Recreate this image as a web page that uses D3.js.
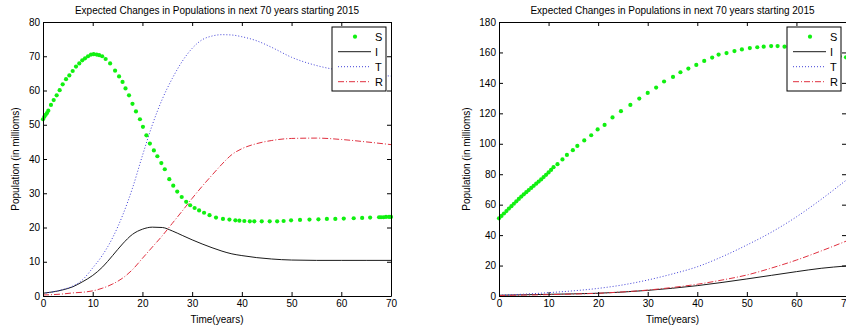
<!DOCTYPE html>
<html>
<head>
<meta charset="utf-8">
<script src="https://cdn.jsdelivr.net/npm/d3@7"></script>
<style>
  html, body { margin: 0; padding: 0; background: #fff; }
  svg { display: block; }
  text { font-family: "Liberation Sans", Arial, Helvetica, sans-serif; fill: #000; }
</style>
</head>
<body>
<svg id="chart" width="846" height="331"></svg>
<script>
(function () {
  var titleText = 'Expected Changes in Populations in next 70 years starting 2015';
  var xLabelText = 'Time(years)';
  var yLabelText = 'Population (in millioms)';
  var legendNames = ['S', 'I', 'T', 'R'];
  var xTicks = [0, 10, 20, 30, 40, 50, 60, 70];
  var yTicksLeft = [0, 10, 20, 30, 40, 50, 60, 70, 80];
  var yTicksRight = [0, 20, 40, 60, 80, 100, 120, 140, 160, 180];

  // left panel: S is plotted with dots at the solver's time steps
  var sTimeLeft = [0, 0.27, 0.54, 0.8, 1.07, 1.6, 2.15, 2.75, 3.35, 3.96, 4.63, 5.3, 5.97, 6.64, 7.3, 7.9,
    8.46, 9.06, 9.66, 10.2, 10.8, 11.3, 11.9, 12.6, 13.5, 14.5, 15.3, 16.0, 16.6, 17.3, 18.0, 18.7,
    19.5, 20.1, 20.8, 21.5, 22.3, 23.0, 23.8, 24.5, 25.4, 26.2, 27.0, 27.9, 28.8, 29.6, 30.5, 31.4,
    32.4, 33.5, 34.8, 36.2, 37.5, 38.7, 39.5, 40.5, 41.6, 42.5, 44.0, 45.6, 47.1, 48.4, 49.9, 51.7,
    53.6, 55.4, 57.1, 58.8, 60.5, 62.5, 64.2, 65.8, 67.6, 68.0, 68.5, 69.0, 69.6, 70];
  var sLeft = [51.6, 52.3, 52.9, 53.4, 54.1, 55.8, 57.2, 58.6, 60.1, 61.8, 63.3, 64.4, 65.7, 67.0, 67.9, 68.8,
    69.4, 70.0, 70.5, 70.6, 70.5, 70.3, 70.0, 69.2, 67.9, 65.8, 64.1, 62.5, 60.6, 58.6, 56.1, 53.9,
    51.6, 49.4, 46.9, 44.5, 42.5, 40.8, 38.8, 37.0, 34.1, 32.2, 30.5, 28.9, 27.5, 26.5, 25.7, 25.0,
    24.3, 23.6, 22.9, 22.5, 22.3, 22.1, 22.0, 21.9, 21.8, 21.8, 21.8, 21.8, 21.8, 21.9, 22.1, 22.2,
    22.3, 22.4, 22.5, 22.5, 22.6, 22.7, 22.8, 22.9, 23.0, 23.0, 23.0, 23.1, 23.1, 23.1];
  var lineTimeLeft = [0, 2, 4, 6, 8, 10, 12, 14, 16, 18, 20, 22, 24, 26, 28, 30, 32, 34, 36, 38, 40, 43, 46, 50, 55, 60, 65, 70];
  var iLeft = [0.8, 1.2, 1.8, 2.7, 4.2, 6.0, 8.5, 11.8, 15.2, 18.0, 19.5, 20.1, 20.0, 19.0, 17.7, 16.4, 15.2, 14.1,
    13.1, 12.3, 11.8, 11.2, 10.8, 10.5, 10.4, 10.4, 10.4, 10.4];
  var tLeft = [0.8, 1.2, 1.9, 2.9, 4.8, 8.2, 12.0, 17.0, 23.5, 31.5, 41.0, 50.0, 57.5, 63.5, 68.5, 72.3, 74.8, 75.9,
    76.3, 76.2, 75.7, 74.5, 72.6, 69.7, 67.3, 65.8, 64.8, 64.2];
  var rLeft = [0.3, 0.4, 0.6, 0.9, 1.1, 1.5, 2.3, 3.5, 5.2, 7.7, 11.0, 14.3, 17.6, 21.2, 24.8, 28.5, 32.0, 35.3,
    38.5, 41.3, 43.0, 44.5, 45.4, 46.0, 46.1, 45.7, 45.0, 44.2];

  // right panel
  var sTimeRight = [0, 0.5, 1, 1.5, 2, 2.5, 3, 3.5, 4, 4.5, 5, 5.5, 6, 6.5, 7, 7.5, 8, 8.5, 9, 9.5, 10, 10.5, 11,
    11.8, 12.8, 13.7, 14.9, 15.8, 17.2, 18.6, 19.9, 21.3, 22.9, 24.6, 26.5, 28.3, 30, 31.7, 33.3, 35.1,
    36.6, 38.2, 39.8, 41.4, 43, 44.3, 45.9, 47.5, 49, 50.6, 52.1, 53.4, 54.9, 56.2, 57.6, 59.2, 60.8,
    62.4, 64, 65.6, 67.2, 68.7, 70];
  var sRight = [51.0, 52.6, 54.2, 55.8, 57.4, 59.0, 60.6, 62.2, 63.8, 65.3, 66.8, 68.2, 69.6, 71.0, 72.4, 73.8,
    75.2, 76.6, 78.1, 79.6, 81.2, 82.8, 84.6, 86.6, 89.7, 92.7, 95.8, 98.6, 102.2, 105.6, 109.4, 112.4,
    117.3, 121.4, 125.5, 129.7, 133.4, 136.9, 140.9, 143.9, 147.0, 149.4, 151.8, 154.4, 156.6, 158.6,
    159.6, 160.9, 162.0, 162.9, 163.4, 163.8, 164.2, 164.2, 163.8, 163.2, 162.4, 161.4, 160.3, 159.2,
    158.2, 157.4, 156.8];
  var lineTimeRight = [0, 5, 10, 15, 20, 25, 30, 35, 40, 45, 50, 55, 60, 65, 70];
  var iRight = [0.5, 0.8, 1.1, 1.4, 1.8, 2.6, 3.7, 5.1, 6.8, 8.9, 11.2, 13.6, 16.0, 18.2, 19.7];
  var tRight = [0.5, 1.2, 2.2, 3.4, 5.0, 7.3, 10.5, 14.5, 19.2, 25.8, 33.5, 42.0, 52.0, 63.5, 76.0];
  var rRight = [0.3, 0.6, 0.9, 1.3, 1.8, 2.7, 3.9, 5.6, 7.7, 10.5, 13.8, 18.4, 23.6, 29.6, 36.0];

  var lineStyles = {
    I: {stroke: '#1a1a1a', dash: null},
    T: {stroke: '#4040d8', dash: '1,2'},
    R: {stroke: '#e0303f', dash: '6,2,1,2'}
  };

  var svg = d3.select('#chart');

  var drawPanel = function (p) {
    var x = d3.scaleLinear().domain([0, 70]).range([p.left, p.right]);
    var y = d3.scaleLinear().domain([0, p.yMax]).range([p.bottom, p.top]);
    var g = svg.append('g');

    // series lines
    var series = [
      {name: 'I', time: p.lineTime, values: p.i},
      {name: 'T', time: p.lineTime, values: p.t},
      {name: 'R', time: p.lineTime, values: p.r}
    ];
    var line = d3.line()
        .x(function (d) { return x(d[0]); })
        .y(function (d) { return y(d[1]); })
        .curve(d3.curveMonotoneX);

    series.forEach(function (s) {
      var pts = s.time.map(function (t, k) { return [t, s.values[k]]; });
      g.append('path')
          .attr('d', line(pts))
          .attr('fill', 'none')
          .attr('stroke', lineStyles[s.name].stroke)
          .attr('stroke-width', 1)
          .attr('stroke-dasharray', lineStyles[s.name].dash);
    });

    g.selectAll('circle.s').data(p.sTime).enter().append('circle')
        .attr('class', 's')
        .attr('cx', function (t) { return x(t); })
        .attr('cy', function (t, k) { return y(p.s[k]); })
        .attr('r', 2.1)
        .attr('fill', '#10f010');

    // axes, ticks inside on all four sides like matlab's box
    var fmt = d3.format('d');
    g.append('g').attr('transform', 'translate(0,' + p.bottom + ')')
        .call(d3.axisBottom(x).tickValues(xTicks).tickSizeInner(-4).tickSizeOuter(0).tickPadding(4).tickFormat(fmt));
    g.append('g').attr('transform', 'translate(0,' + p.top + ')')
        .call(d3.axisTop(x).tickValues(xTicks).tickSizeInner(-4).tickSizeOuter(0).tickFormat(''));
    g.append('g').attr('transform', 'translate(' + p.left + ',0)')
        .call(d3.axisLeft(y).tickValues(p.yTicks).tickSizeInner(-4).tickSizeOuter(0).tickPadding(3).tickFormat(fmt));
    g.append('g').attr('transform', 'translate(' + p.right + ',0)')
        .call(d3.axisRight(y).tickValues(p.yTicks).tickSizeInner(-4).tickSizeOuter(0).tickFormat(''));

    g.selectAll('.domain').attr('stroke', '#000');
    g.selectAll('.tick line').attr('stroke', '#000');
    g.selectAll('.tick text')
        .attr('font-size', 10)
        .attr('font-family', '"Liberation Sans", Arial, sans-serif')
        .attr('fill', '#111');

    var mid = (p.left + p.right) / 2;
    g.append('text')
        .attr('x', mid).attr('y', 13.5)
        .attr('text-anchor', 'middle')
        .attr('font-size', 10)
        .attr('fill', '#222')
        .text(titleText);

    g.append('text')
        .attr('x', mid).attr('y', 322.5)
        .attr('text-anchor', 'middle')
        .attr('font-size', 10)
        .attr('fill', '#111')
        .text(xLabelText);

    g.append('text')
        .attr('transform', 'translate(' + p.yLabelX + ',' + ((p.top + p.bottom) / 2) + ') rotate(-90)')
        .attr('text-anchor', 'middle')
        .attr('dy', '0.35em')
        .attr('font-size', 10)
        .attr('fill', '#111')
        .text(yLabelText);

    // legend
    var lx = p.right - 59;
    var ly = p.top + 5;
    var legend = g.append('g').attr('transform', 'translate(' + lx + ',' + ly + ')');
    legend.append('rect')
        .attr('x', 0).attr('y', 0).attr('width', 54).attr('height', 64)
        .attr('fill', '#fff').attr('stroke', '#000').attr('stroke-width', 1);

    legendNames.forEach(function (name, k) {
      var cy = 9.7 + k * 15;
      if (name === 'S') {
        legend.append('circle').attr('cx', 23).attr('cy', cy).attr('r', 2.1).attr('fill', '#10f010');
      } else {
        legend.append('line')
            .attr('x1', 6).attr('x2', 39).attr('y1', cy).attr('y2', cy)
            .attr('stroke', lineStyles[name].stroke)
            .attr('stroke-width', 1)
            .attr('stroke-dasharray', lineStyles[name].dash);
      }
      legend.append('text')
          .attr('x', 43).attr('y', cy).attr('dy', '0.35em')
          .attr('font-size', 11)
          .attr('fill', '#111')
          .text(name);
    });
  };

  drawPanel({
    left: 43, right: 391, top: 22, bottom: 296, yMax: 80, yTicks: yTicksLeft, yLabelX: 15,
    sTime: sTimeLeft, s: sLeft, lineTime: lineTimeLeft, i: iLeft, t: tLeft, r: rLeft
  });

  drawPanel({
    left: 499, right: 846, top: 22, bottom: 296, yMax: 180, yTicks: yTicksRight, yLabelX: 466.5,
    sTime: sTimeRight, s: sRight, lineTime: lineTimeRight, i: iRight, t: tRight, r: rRight
  });
})();
</script>
</body>
</html>
